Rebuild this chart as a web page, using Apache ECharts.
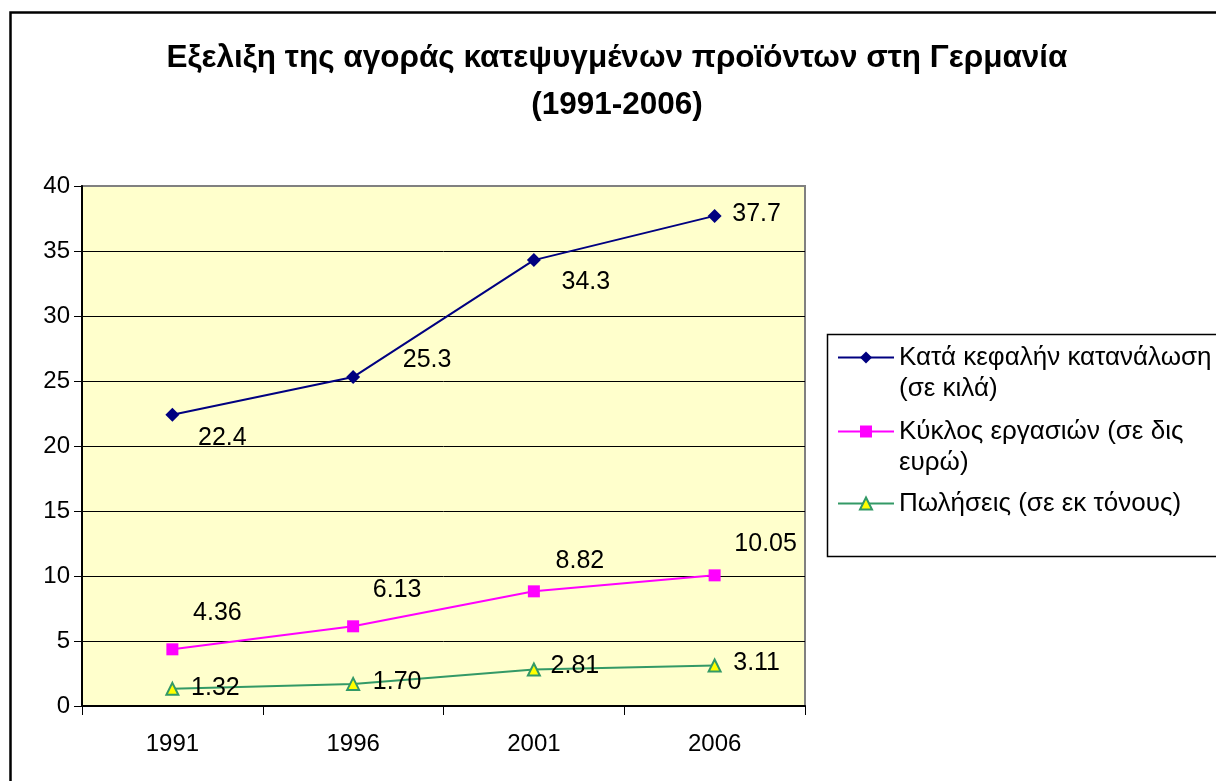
<!DOCTYPE html>
<html>
<head>
<meta charset="utf-8">
<title>Εξελιξη της αγοράς κατεψυγμένων προϊόντων στη Γερμανία</title>
<script src="https://cdn.jsdelivr.net/npm/echarts@6/dist/echarts.min.js"></script>
<style>
  html, body { margin: 0; padding: 0; background: #fff; }
  #chart { width: 1216px; height: 781px; }
</style>
</head>
<body>
<div id="chart"></div>
<script>
const years = ['1991', '1996', '2001', '2006']
const perCapita = [22.4, 25.3, 34.3, 37.7]
const turnover = [4.36, 6.13, 8.82, 10.05]
const sales = [1.32, 1.70, 2.81, 3.11]
const seriesNames = [
  'Κατά κεφαλήν κατανάλωση',
  'Κύκλος εργασιών (σε δις',
  'Πωλήσεις (σε εκ τόνους)'
]
const legendSecondLines = ['(σε κιλά)', 'ευρώ)', '']
const titleText = 'Εξελιξη της αγοράς κατεψυγμένων προϊόντων στη Γερμανία\n(1991-2006)'

const FONT = "'Liberation Sans', Arial, sans-serif"

// where Excel put each data label, relative to its marker
const labelOffsets = [
  [[50, 23], [74, -17], [52, 22], [42, -2]],
  [[45, -36], [44, -36], [46, -30], [51, -31]],
  [[43, -1], [44, -2], [41, -3], [42, -2]]
]

function withLabels(values, idx) {
  return values.map((v, i) => ({
    value: v,
    label: { offset: labelOffsets[idx][i] }
  }))
}

function lineSeries(name, values, idx, decimals, opts) {
  return Object.assign({
    name: name,
    type: 'line',
    data: withLabels(values, idx),
    symbolSize: 12,
    label: {
      show: true,
      position: 'inside',
      color: '#000',
      fontFamily: FONT,
      fontSize: 25,
      formatter: p => p.value.toFixed(decimals)
    },
    emphasis: { disabled: true },
    animation: false
  }, opts)
}

// legend icon sits in the middle of the text block, so two-line entries
// get an empty first line to keep the icon level with the first text line
function legendFor(i, top, lines) {
  return {
    show: true,
    orient: 'vertical',
    left: 837,
    top: top,
    padding: 0,
    itemWidth: 56,
    itemHeight: 15,
    selectedMode: false,
    data: [seriesNames[i]],
    formatter: name => lines > 1 ? '\n' + name + '\n' + legendSecondLines[i] : name,
    textStyle: {
      fontFamily: FONT,
      fontSize: 26,
      lineHeight: 31,
      color: '#000'
    }
  }
}

const chart = echarts.init(document.getElementById('chart'), null, { renderer: 'canvas' })

chart.setOption({
  backgroundColor: '#fff',
  animation: false,
  title: {
    text: titleText,
    left: 612,
    top: 30,
    textAlign: 'center',
    textStyle: {
      fontFamily: FONT,
      fontSize: 31.5,
      fontWeight: 'bold',
      lineHeight: 47,
      color: '#000'
    }
  },
  grid: {
    left: 82,
    right: 411,
    top: 186,
    bottom: 75,
    show: true,
    backgroundColor: '#FFFFCC',
    borderColor: '#808080',
    borderWidth: 2
  },
  legend: [
    legendFor(0, 311, 2),
    legendFor(1, 385, 2),
    legendFor(2, 488, 1)
  ],
  xAxis: {
    type: 'category',
    data: years,
    boundaryGap: true,
    axisLine: { lineStyle: { color: '#000', width: 2 } },
    axisTick: { show: true, length: 9, lineStyle: { color: '#000', width: 1 } },
    axisLabel: { color: '#000', fontFamily: FONT, fontSize: 24, margin: 26 },
    splitLine: { show: false }
  },
  yAxis: {
    type: 'value',
    min: 0,
    max: 40,
    interval: 5,
    axisLine: { show: true, lineStyle: { color: '#000', width: 2 } },
    axisTick: { show: true, length: 8, lineStyle: { color: '#000', width: 1 } },
    axisLabel: { color: '#000', fontFamily: FONT, fontSize: 24, margin: 12 },
    splitLine: { show: true, showMaxLine: false, lineStyle: { color: '#000', width: 1 } }
  },
  series: [
    lineSeries(seriesNames[0], perCapita, 0, 1, {
      symbol: 'diamond',
      symbolSize: 14,
      itemStyle: { color: '#000080' },
      lineStyle: { color: '#000080', width: 2 }
    }),
    lineSeries(seriesNames[1], turnover, 1, 2, {
      symbol: 'rect',
      symbolSize: 12,
      itemStyle: { color: '#FF00FF' },
      lineStyle: { color: '#FF00FF', width: 2 }
    }),
    lineSeries(seriesNames[2], sales, 2, 2, {
      symbol: 'triangle',
      symbolSize: 12,
      itemStyle: { color: '#FFFF00', borderColor: '#339966', borderWidth: 2 },
      lineStyle: { color: '#339966', width: 2 }
    })
  ],
  graphic: [
    {
      type: 'rect',
      shape: { x: 10.5, y: 12.5, width: 1300, height: 900 },
      style: { fill: 'none', stroke: '#000', lineWidth: 2.5 },
      silent: true
    },
    {
      type: 'rect',
      shape: { x: 827.5, y: 334.5, width: 500, height: 222 },
      style: { fill: 'none', stroke: '#000', lineWidth: 1.5 },
      silent: true
    }
  ]
})
</script>
</body>
</html>
